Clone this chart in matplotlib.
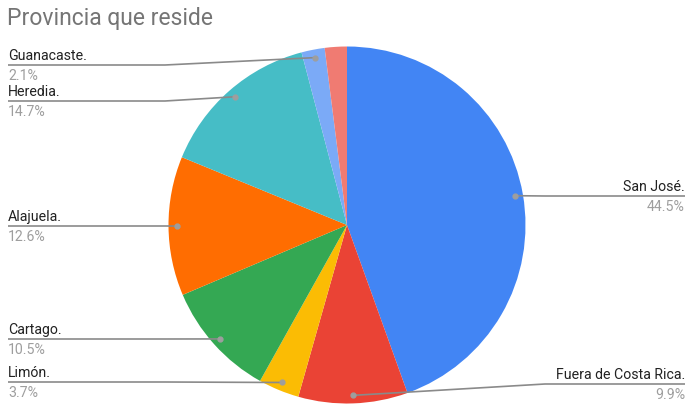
import numpy as np
import matplotlib
matplotlib.use("Agg")
import matplotlib.pyplot as plt

plt.rcParams['font.family'] = ['Roboto', 'DejaVu Sans']

TITLE = "Provincia que reside"
provinces = ["San José.", "Fuera de Costa Rica.", "Limón.", "Cartago.",
             "Alajuela.", "Heredia.", "Guanacaste.", "Otra"]
shares = [44.5, 9.9, 3.7, 10.5, 12.6, 14.7, 2.1, 2.0]
colors = ["#4285F4", "#EA4335", "#FBBC04", "#34A853",
          "#FF6D01", "#46BDC6", "#7BAAF7", "#F07B72"]
show_label = [True, True, True, True, True, True, True, False]

# label line heights (pixels from top), chosen to avoid overlaps
label_y_px = [197, 385, 383, 340, 227, 102, 66, None]

W, H = 689, 406
fig = plt.figure(figsize=(W / 100, H / 100), dpi=100)
ax = fig.add_axes([0, 0, 1, 1])

cx, cy, r = 347, H - 226, 178.5
wedges, _ = ax.pie(shares, colors=colors, startangle=90, counterclock=False,
                   center=(cx, cy), radius=r, frame=True,
                   wedgeprops=dict(linewidth=0))
ax.set_xlim(0, W)
ax.set_ylim(0, H)
ax.set_aspect("equal")
ax.axis("off")

line_col = "#8a8a8a"
for w, name, val, show, ly in zip(wedges, provinces, shares, show_label, label_y_px):
    if not show:
        continue
    mid = np.deg2rad((w.theta1 + w.theta2) / 2)
    dx, dy = cx + 0.955 * r * np.cos(mid), cy + 0.955 * r * np.sin(mid)
    y = H - ly
    ax.plot([dx], [dy], "o", color="#9e9e9e", ms=3.5, zorder=5)
    if dx > cx:
        xs = [dx, max(dx, 545), 685]
        tx, ha = 685, "right"
    else:
        xs = [dx, min(dx, 165), 8]
        tx, ha = 8, "left"
    ax.plot(xs, [dy, y, y], color=line_col, lw=1.2, zorder=4, solid_capstyle="butt")
    ax.text(tx, y + 3, name, ha=ha, va="bottom", fontsize=10.2, color="#222222")
    ax.text(tx, y - 3, f"{val}%", ha=ha, va="top", fontsize=10.2, color="#9e9e9e")

ax.text(7, H - 19, TITLE, ha="left", va="center", fontsize=16.5, color="#757575")

fig.savefig("out.png", dpi=100, facecolor="white")
